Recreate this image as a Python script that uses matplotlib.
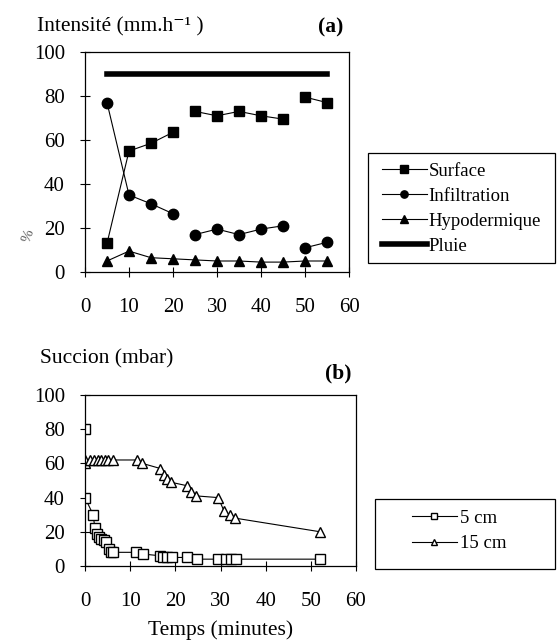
import matplotlib
matplotlib.use('Agg')
import matplotlib.pyplot as plt
from matplotlib.patches import Rectangle

# panel (a) data
t_a = [5, 10, 15, 20, 25, 30, 35, 40, 45, 50, 55]
surface = [13, 55, 58.5, 63.5, 73, 71, 73, 71, 69.5, 79.5, 77]
infiltration = [77, 35, 31, 26.5, 17, 19.5, 17, 19.5, 21, 11, 13.5]
hypodermique = [5, 9.5, 6.5, 6, 5.5, 5, 5, 4.5, 4.5, 5, 5]
pluie_t = [5, 55]
pluie = [90, 90]
# segments joined by a line (indices into t_a)
segments = [(0, 4), (4, 9), (9, 11)]

# panel (b) data
t_5cm = [0, 0, 1.8, 2.2, 2.6, 3.0, 3.5, 4.2, 4.6, 5.3, 5.8, 6.2, 11.4, 12.8, 16.6, 17.3,
         18.2, 19.2, 22.6, 24.7, 29.5, 31.3, 32.4, 33.4, 52.1]
s_5cm = [80, 40, 30, 22, 19, 17, 16, 15, 14, 10, 8, 8, 8, 7, 6, 5.5,
         5, 5, 5, 4, 4, 4, 4, 4, 4]
t_15cm = [0, 0, 1.2, 2.0, 2.8, 3.6, 4.4, 5.2, 6.2, 11.6, 12.7, 16.7, 17.5, 18.1, 19.0,
          22.5, 23.5, 24.6, 29.5, 30.8, 32.0, 33.2, 52.1]
s_15cm = [60, 62, 62, 62, 62, 62, 62, 62, 62, 62, 60, 57, 53, 51, 49,
          47, 43, 41, 40, 32, 30, 28, 20]

plt.rcParams['font.family'] = ['Liberation Serif', 'DejaVu Serif']

W, H = 557, 643
fig = plt.figure(figsize=(W / 100, H / 100), dpi=100)


def box(x0, y0, x1, y1):
    return [x0 / W, 1 - y1 / H, (x1 - x0) / W, (y1 - y0) / H]


def style(ax):
    ax.set_xlim(0, 60)
    ax.set_ylim(0, 100)
    ax.set_xticks(range(0, 61, 10))
    ax.set_yticks(range(0, 101, 20))
    ax.tick_params(direction='inout', length=7, width=0.8, labelsize=15)
    ax.tick_params(axis='y', pad=11)
    ax.tick_params(axis='x', pad=15)
    for s in ax.spines.values():
        s.set_linewidth(0.9)


def frame(x0, y0, x1, y1):
    fig.patches.append(Rectangle((x0 / W, 1 - y1 / H), (x1 - x0) / W, (y1 - y0) / H,
                                 transform=fig.transFigure, fill=False,
                                 edgecolor='black', lw=0.9))


# (a)
ax1 = fig.add_axes(box(85, 52, 349, 272))
mk = dict(color='black', lw=0.8, ms=7.5)
for i0, i1 in segments:
    ax1.plot(t_a[i0:i1], surface[i0:i1], marker='s', **mk,
             label='Surface' if i0 == 0 else None)
for i0, i1 in segments:
    ax1.plot(t_a[i0:i1], infiltration[i0:i1], marker='o', **mk,
             label='Infiltration' if i0 == 0 else None)
ax1.plot(t_a, hypodermique, marker='^', label='Hypodermique', **mk)
ax1.plot(pluie_t, pluie, color='black', lw=4, label='Pluie')
style(ax1)
fig.text(37 / W, 1 - 27 / H, 'Intensité (mm.h⁻¹ )', fontsize=15.5, va='center', ha='left')
fig.text(318 / W, 1 - 27 / H, '(a)', fontsize=15.5, fontweight='bold', va='center')
fig.text(28 / W, 1 - 236 / H, '%', fontsize=11, rotation=70, color='0.35',
         va='center', ha='center')
frame(368, 153, 555, 263)
fig.legend(*ax1.get_legend_handles_labels(), loc='upper left',
           bbox_to_anchor=(376 / W, 1 - 157 / H), fontsize=13.5, frameon=False,
           handlelength=2.4, handletextpad=0.1,
           labelspacing=0.42, borderpad=0.3, borderaxespad=0, markerscale=0.7)

# (b)
ax2 = fig.add_axes(box(85, 395, 356, 566))
ax2.plot(t_5cm, s_5cm, marker='s', color='black', mfc='white', lw=0.8, ms=7.5,
         label='5 cm')
ax2.plot(t_15cm, s_15cm, marker='^', color='black', mfc='white', lw=0.8, ms=7.5,
         label='15 cm')
style(ax2)
ax2.set_xlabel('Temps (minutes)', fontsize=15.5, labelpad=7)
fig.text(40 / W, 1 - 359 / H, 'Succion (mbar)', fontsize=15.5, va='center', ha='left')
fig.text(325 / W, 1 - 373 / H, '(b)', fontsize=15.5, fontweight='bold', va='center')
frame(375, 499, 555, 569)
fig.legend(*ax2.get_legend_handles_labels(), loc='upper left',
           bbox_to_anchor=(406 / W, 1 - 504 / H), fontsize=13.5, frameon=False,
           handlelength=2.4, handletextpad=0.2,
           labelspacing=0.45, borderpad=0.3, borderaxespad=0, markerscale=0.6)

fig.savefig('out.png', dpi=100)
